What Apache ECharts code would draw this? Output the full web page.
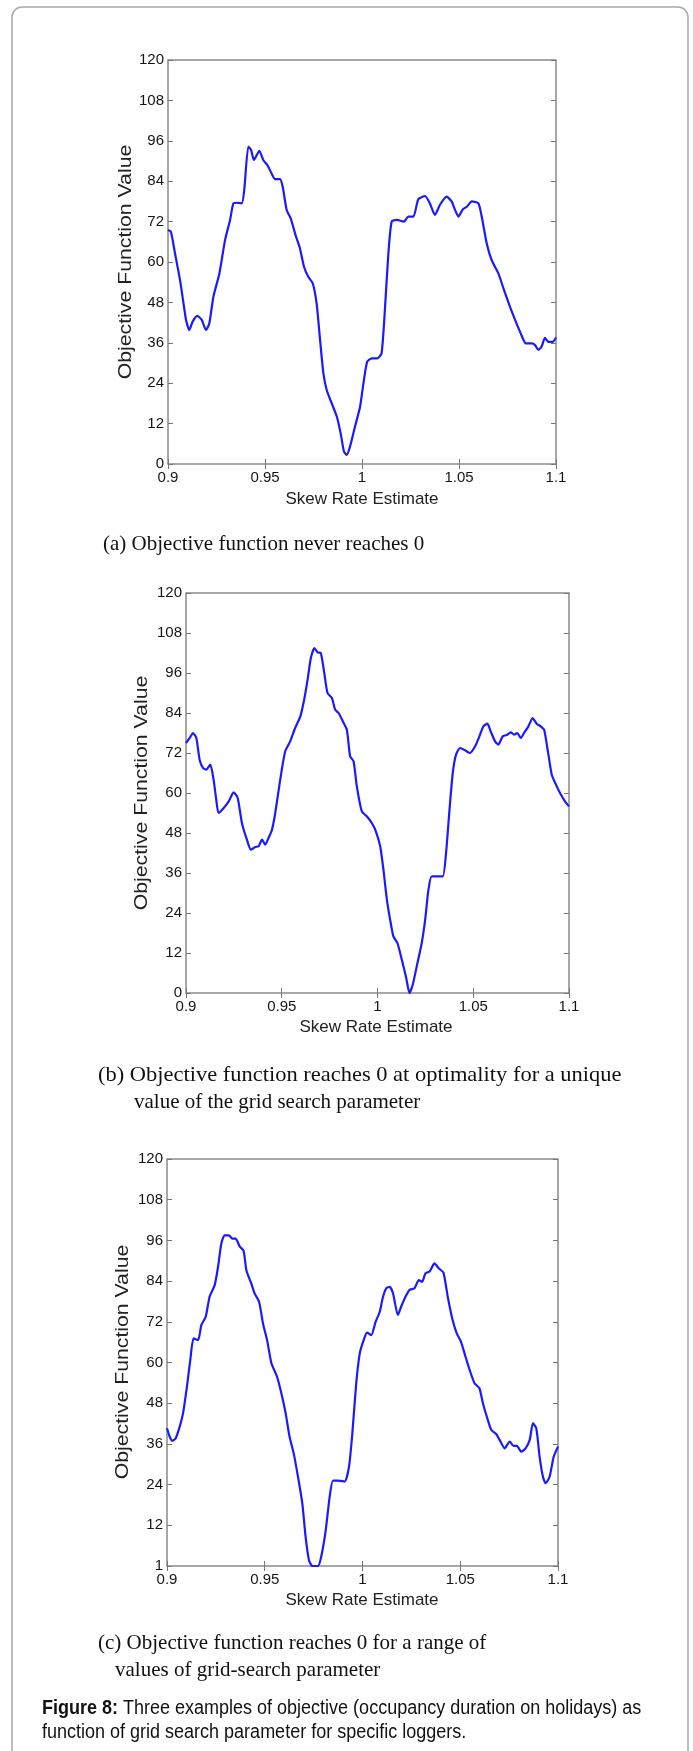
<!DOCTYPE html>
<html>
<head>
<meta charset="utf-8">
<script src="https://cdn.jsdelivr.net/npm/echarts@6/dist/echarts.min.js"></script>
<style>
html, body { margin: 0; padding: 0; background: #fff; }
#fig { width: 693px; height: 1751px; }
</style>
</head>
<body>
<div id="fig"></div>
<script>
// Tick labels
const xTickLabels = ['0.9', '0.95', '1', '1.05', '1.1'];
const yTickLabelsAB = ['0', '12', '24', '36', '48', '60', '72', '84', '96', '108', '120'];
const yTickLabelsC = ['1', '12', '24', '36', '48', '60', '72', '84', '96', '108', '120'];

// (a) objective never reaches 0
const skewA = [
  0.9, 0.9015, 0.9036, 0.9062, 0.908, 0.9093, 0.911, 0.9127, 0.9151, 0.9174,
  0.9196, 0.9213, 0.9234, 0.9265, 0.9294, 0.932, 0.9337, 0.9357, 0.938, 0.9393,
  0.9414, 0.9428, 0.9443, 0.9457, 0.9471, 0.9491, 0.9512, 0.9534, 0.9552, 0.9577,
  0.9591, 0.9612, 0.9632, 0.966, 0.968, 0.9701, 0.9723, 0.9746, 0.9766, 0.9784,
  0.9801, 0.9818, 0.9844, 0.987, 0.989, 0.9907, 0.9921, 0.9938, 0.9964, 0.999,
  1.001, 1.0027, 1.005, 1.0079, 1.0101, 1.0119, 1.0136, 1.0153, 1.0179, 1.0216,
  1.0239, 1.0265, 1.029, 1.0325, 1.035, 1.0376, 1.0402, 1.0436, 1.0462, 1.048,
  1.0497, 1.0519, 1.054, 1.0566, 1.06, 1.0617, 1.0643, 1.0668, 1.0703, 1.0729,
  1.0763, 1.0789, 1.0818, 1.0845, 1.0875, 1.0892, 1.0909, 1.0926, 1.0943, 1.096,
  1.0983, 1.1
];
const objA = [
  69.5, 69, 62.6, 54.6, 47.7, 42.8, 39.8, 42.3, 44, 42.8,
  39.8, 41.8, 49.7, 56.6, 66.5, 72.5, 77.4, 77.6, 77.4, 81.4,
  94.3, 93.3, 90.3, 91.7, 93, 90.3, 88.8, 86.3, 84.6, 84.6,
  82.4, 75.4, 73, 67.5, 64.1, 58.6, 55.6, 53.7, 47.7, 36.8,
  26.9, 22, 18, 14.1, 9.1, 3.7, 2.7, 5.1, 11.1, 17,
  25, 30.4, 31.4, 31.4, 32.9, 46.7, 62.6, 72, 72.5, 72,
  73.5, 73.5, 78.6, 79.6, 77.4, 74, 77, 79.4, 78, 75.4,
  73.5, 75.6, 76.4, 78, 77.4, 73.5, 65.5, 60.6, 56.6, 52.2,
  46.7, 42.8, 38.8, 35.8, 35.8, 35.3, 33.9, 34.9, 37.5, 36.3,
  36.3, 37.6
];

// (b) objective reaches 0 at a single parameter value
const skewB = [
  0.9, 0.9019, 0.9037, 0.9054, 0.9071, 0.9089, 0.9106, 0.9127, 0.9144, 0.9158,
  0.917, 0.9197, 0.9223, 0.9249, 0.927, 0.9292, 0.9318, 0.9339, 0.9362, 0.9379,
  0.9397, 0.9414, 0.9431, 0.9449, 0.9466, 0.9492, 0.9518, 0.9544, 0.957, 0.9597,
  0.9617, 0.9635, 0.9652, 0.9671, 0.9687, 0.9704, 0.9722, 0.9739, 0.9762, 0.9779,
  0.9797, 0.9819, 0.984, 0.9857, 0.9875, 0.9892, 0.9918, 0.9944, 0.997, 0.9988,
  1.0014, 1.0031, 1.0049, 1.0066, 1.0083, 1.0104, 1.0127, 1.015, 1.0167, 1.0184,
  1.0205, 1.0231, 1.0249, 1.0266, 1.0283, 1.031, 1.0341, 1.0358, 1.0376, 1.0393,
  1.041, 1.0431, 1.0457, 1.0483, 1.051, 1.0532, 1.0553, 1.0574, 1.0591, 1.0614,
  1.0631, 1.0654, 1.0678, 1.0696, 1.0713, 1.073, 1.0748, 1.0765, 1.0788, 1.081,
  1.0831, 1.0852, 1.087, 1.0887, 1.091, 1.0932, 1.0953, 1.0979, 1.1
];
const objB = [
  75, 76.5, 78, 76.5, 70, 67.5, 67, 68.5, 64, 58,
  54, 55.5, 57.5, 60.2, 58.5, 51, 46, 43, 43.8, 44,
  46, 44.5, 46.5, 49, 54, 64, 72.5, 75.5, 79.5, 83,
  88, 94, 100.5, 103.5, 102.2, 102, 96, 90, 88.5, 85,
  84, 81.5, 79, 71, 69.5, 62, 54.5, 53, 51, 49,
  44, 37, 28, 22, 17, 15, 10, 4.5, 0, 2.5,
  8, 15, 22, 31, 35, 35, 35, 42, 55, 66,
  71.5, 73.5, 72.8, 72, 74, 77, 80, 80.8, 78.5, 75.5,
  74.5, 77, 77.5, 78.2, 77.5, 78, 76.5, 78, 80, 82.5,
  80.8, 80, 79, 73.5, 65.5, 62.5, 60, 57.5, 56
];

// (c) objective reaches 0 over a range of parameter values
const skewC = [
  0.9, 0.9014, 0.9027, 0.9044, 0.9065, 0.9082, 0.9102, 0.9119, 0.9136, 0.9159,
  0.9176, 0.9198, 0.9218, 0.9244, 0.9261, 0.9278, 0.9295, 0.9317, 0.9334, 0.9351,
  0.9372, 0.9392, 0.9406, 0.9431, 0.9448, 0.9471, 0.9491, 0.9512, 0.9534, 0.9563,
  0.9585, 0.9607, 0.9627, 0.9648, 0.967, 0.9692, 0.9709, 0.9726, 0.9743, 0.9772,
  0.9789, 0.9812, 0.9832, 0.9849, 0.9875, 0.9909, 0.9931, 0.9948, 0.9968, 0.9986,
  1.0006, 1.0023, 1.0045, 1.0067, 1.0088, 1.0105, 1.0122, 1.0139, 1.0156, 1.0181,
  1.0198, 1.022, 1.0241, 1.0266, 1.0288, 1.0305, 1.0322, 1.0343, 1.0368, 1.0391,
  1.0414, 1.0436, 1.0459, 1.0482, 1.0504, 1.0527, 1.0551, 1.0573, 1.0598, 1.0616,
  1.0636, 1.0659, 1.0684, 1.0702, 1.0727, 1.0753, 1.0773, 1.079, 1.0812, 1.0834,
  1.0855, 1.0872, 1.0889, 1.0906, 1.0923, 1.0937, 1.0957, 1.0978, 1.1
];
const objC = [
  40.6, 38.1, 36.9, 37.6, 41.1, 45, 52.9, 60.7, 67.1, 66.6,
  71.1, 73.5, 79.4, 82.8, 88.2, 95.1, 97.5, 97.5, 96.5, 96.5,
  94.2, 92.9, 87.2, 83.3, 80.4, 77.9, 71.5, 66.6, 59.8, 55.8,
  50.9, 45, 38.1, 33.2, 26.3, 18.5, 8.6, 1.8, 0, 0,
  2.8, 10.6, 20.4, 25.2, 25.2, 24.9, 29.3, 39.1, 53.9, 62.7,
  66.6, 68.8, 68.1, 72, 74.9, 79.4, 81.9, 82.3, 80.4, 74,
  76.5, 79.4, 81.4, 81.9, 84.3, 83.8, 86.3, 86.8, 89.2, 87.7,
  86.5, 79.4, 73, 68.6, 66.1, 61.7, 57.3, 53.9, 52.4, 48,
  44, 40.1, 38.9, 37.1, 34.7, 36.7, 35.4, 35.4, 33.7, 34.7,
  37.1, 42.1, 40.6, 32.2, 26.3, 24.4, 26.3, 32.2, 35.2
];

const SANS = "'Liberation Sans', Arial, Helvetica, sans-serif";
const SERIF = "'Liberation Serif', 'Times New Roman', serif";

const panels = [
  { x: skewA, y: objA, yLabels: yTickLabelsAB, grid: { left: 168, top: 60, width: 388, height: 404 },
    yTitle: [126, 262], xTitle: [362, 499] },
  { x: skewB, y: objB, yLabels: yTickLabelsAB, grid: { left: 186, top: 593, width: 383, height: 400 },
    yTitle: [142, 793], xTitle: [376, 1027] },
  { x: skewC, y: objC, yLabels: yTickLabelsC, grid: { left: 167, top: 1159, width: 391, height: 407 },
    yTitle: [123, 1362], xTitle: [362, 1600] }
];

const grids = [], xAxes = [], yAxes = [], series = [], graphics = [];

// outer figure frame
graphics.push({
  type: 'rect', z: 0,
  shape: { x: 12, y: 7, width: 676, height: 1800, r: 10 },
  style: { fill: 'none', stroke: '#a8a8a8', lineWidth: 1.5 }
});

panels.forEach((p, i) => {
  grids.push(Object.assign({ show: true, borderColor: '#8a8a8a', borderWidth: 1.5,
    backgroundColor: '#fff', containLabel: false }, p.grid));

  const tickStyle = { show: true, inside: true, length: 5, lineStyle: { color: '#777', width: 1 } };
  const xBase = { type: 'value', gridIndex: i, min: 0.9, max: 1.1, interval: 0.05,
    splitLine: { show: false }, axisLine: { show: false }, axisTick: tickStyle };
  const yBase = { type: 'value', gridIndex: i, min: 0, max: 120, interval: 12,
    splitLine: { show: false }, axisLine: { show: false }, axisTick: tickStyle };

  xAxes.push(Object.assign({}, xBase, { position: 'bottom',
    axisLabel: { show: true, margin: 6, color: '#151515', fontFamily: SANS, fontSize: 15,
      showMinLabel: true, showMaxLabel: true,
      formatter: v => xTickLabels[Math.round((v - 0.9) / 0.05)] } }));
  xAxes.push(Object.assign({}, xBase, { position: 'top', axisLabel: { show: false } }));

  const labels = p.yLabels;
  yAxes.push(Object.assign({}, yBase, { position: 'left',
    axisLabel: { show: true, margin: 4, color: '#151515', fontFamily: SANS, fontSize: 15,
      showMinLabel: true, showMaxLabel: true,
      formatter: v => labels[Math.round(v / 12)] } }));
  yAxes.push(Object.assign({}, yBase, { position: 'right', axisLabel: { show: false } }));

  series.push({
    type: 'line', xAxisIndex: 2 * i, yAxisIndex: 2 * i,
    data: p.x.map((v, k) => [v, p.y[k]]),
    showSymbol: false, smooth: 0.2, clip: true,
    lineStyle: { color: '#1a1aff', width: 2.2 },
    animation: false
  });

  // rotated axis title, stretched along its length like the tall MATLAB lettering
  graphics.push({
    type: 'text', x: p.yTitle[0], y: p.yTitle[1], rotation: Math.PI / 2, scaleX: 1.18,
    style: { text: 'Objective Function Value', font: '18px ' + SANS, fill: '#222',
      align: 'center', verticalAlign: 'middle' }
  });
  graphics.push({
    type: 'text', x: p.xTitle[0], y: p.xTitle[1],
    style: { text: 'Skew Rate Estimate', font: '17px ' + SANS, fill: '#222',
      align: 'center', verticalAlign: 'middle' }
  });
});

// panel captions
const captions = [
  ['(a) Objective function never reaches 0', 103, 544, 1],
  ['(b) Objective function reaches 0 at optimality for a unique', 98, 1075, 1.07],
  ['value of the grid search parameter', 134, 1102, 1],
  ['(c) Objective function reaches 0 for a range of', 98, 1643, 1],
  ['values of grid-search parameter', 115, 1670, 1]
];
captions.forEach(c => graphics.push({
  type: 'text', x: c[1], y: c[2], scaleX: c[3],
  style: { text: c[0], font: '21px ' + SERIF, fill: '#111', align: 'left', verticalAlign: 'middle' }
}));

// figure caption (narrow, tall lettering)
graphics.push({
  type: 'text', x: 42, y: 1708, scaleX: 0.9,
  style: {
    text: '{b|Figure 8:} Three examples of objective (occupancy duration on holidays) as',
    font: '20px ' + SANS, fill: '#111', align: 'left', verticalAlign: 'middle',
    rich: { b: { fontWeight: 'bold', fontFamily: SANS, fontSize: 20, fill: '#111' } }
  }
});
graphics.push({
  type: 'text', x: 42, y: 1732, scaleX: 0.9,
  style: { text: 'function of grid search parameter for specific loggers.', font: '20px ' + SANS,
    fill: '#111', align: 'left', verticalAlign: 'middle' }
});

const chart = echarts.init(document.getElementById('fig'), null, { renderer: 'canvas' });
chart.setOption({
  animation: false,
  backgroundColor: '#fff',
  grid: grids,
  xAxis: xAxes,
  yAxis: yAxes,
  series: series,
  graphic: graphics
});
</script>
</body>
</html>
